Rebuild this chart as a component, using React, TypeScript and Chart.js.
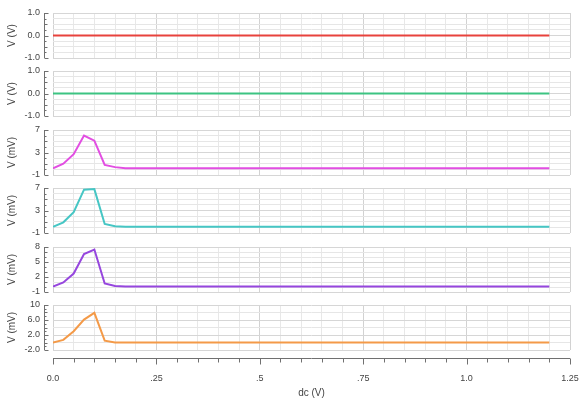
import React, { useEffect, useRef } from "react";
import { Chart, registerables } from "chart.js";
Chart.register(...registerables);

// ---- data ----
const X_VALUES = [0, 0.025, 0.05, 0.075, 0.1, 0.125, 0.15, 0.175, 1.2];
const SERIES_1 = [0, 0, 0, 0, 0, 0, 0, 0, 0];
const SERIES_2 = [0, 0, 0, 0, 0, 0, 0, 0, 0];
const SERIES_3 = [0.2, 1.0, 2.7, 6.0, 5.1, 0.8, 0.4, 0.2, 0.2];
const SERIES_4 = [0.1, 0.9, 2.7, 6.7, 6.8, 0.6, 0.2, 0.1, 0.1];
const SERIES_5 = [0.1, 0.9, 2.7, 6.6, 7.5, 0.7, 0.2, 0.1, 0.1];
const SERIES_6 = [0.0, 0.7, 3.0, 6.1, 7.9, 0.5, 0.0, 0.0, 0.0];

// ---- tick labels ----
const X_TICK_VALUES = [0, 0.25, 0.5, 0.75, 1.0, 1.25];
const X_TICK_LABELS = ["0.0", ".25", ".5", ".75", "1.0", "1.25"];
const X_TITLE = "dc (V)";

const Y1_TICK_VALUES = [-1, 0, 1];
const Y1_TICK_LABELS = ["-1.0", "0.0", "1.0"];
const Y2_TICK_VALUES = [-1, 0, 1];
const Y2_TICK_LABELS = ["-1.0", "0.0", "1.0"];
const Y3_TICK_VALUES = [-1, 3, 7];
const Y3_TICK_LABELS = ["-1", "3", "7"];
const Y4_TICK_VALUES = [-1, 3, 7];
const Y4_TICK_LABELS = ["-1", "3", "7"];
const Y5_TICK_VALUES = [-1, 2, 5, 8];
const Y5_TICK_LABELS = ["-1", "2", "5", "8"];
const Y6_TICK_VALUES = [-2, 2, 6, 10];
const Y6_TICK_LABELS = ["-2.0", "2.0", "6.0", "10"];

const Y_TITLES = ["V (V)", "V (V)", "V (mV)", "V (mV)", "V (mV)", "V (mV)"];

type PanelCfg = {
  data: number[];
  color: string;
  min: number;
  max: number;
  step: number;
  gridStep: number;
  tickValues: number[];
  tickLabels: string[];
  title: string;
  top: number;
};

const PLOT_LEFT = 53;
const PLOT_RIGHT = 570;
const PANEL_H = 45;
const PAD = 8;
const FONT = "'Liberation Sans', 'DejaVu Sans', sans-serif";

const PANELS: PanelCfg[] = [
  { data: SERIES_1, color: "#e8423c", min: -1, max: 1, step: 0.25, gridStep: 0.25, tickValues: Y1_TICK_VALUES, tickLabels: Y1_TICK_LABELS, title: Y_TITLES[0], top: 13 },
  { data: SERIES_2, color: "#3cc482", min: -1, max: 1, step: 0.25, gridStep: 0.25, tickValues: Y2_TICK_VALUES, tickLabels: Y2_TICK_LABELS, title: Y_TITLES[1], top: 71 },
  { data: SERIES_3, color: "#e24ee2", min: -1, max: 7, step: 1, gridStep: 1, tickValues: Y3_TICK_VALUES, tickLabels: Y3_TICK_LABELS, title: Y_TITLES[2], top: 130 },
  { data: SERIES_4, color: "#46c6c4", min: -1, max: 7, step: 1, gridStep: 1, tickValues: Y4_TICK_VALUES, tickLabels: Y4_TICK_LABELS, title: Y_TITLES[3], top: 188 },
  { data: SERIES_5, color: "#9646de", min: -1, max: 8, step: 1, gridStep: 1, tickValues: Y5_TICK_VALUES, tickLabels: Y5_TICK_LABELS, title: Y_TITLES[4], top: 247 },
  { data: SERIES_6, color: "#f49a48", min: -2, max: 10, step: 1, gridStep: 2, tickValues: Y6_TICK_VALUES, tickLabels: Y6_TICK_LABELS, title: Y_TITLES[5], top: 305 },
];

const near = (a: number, b: number) => Math.abs(a - b) < 1e-6;
const isMult = (v: number, s: number) => Math.abs(v / s - Math.round(v / s)) < 1e-6;

function makeAxisPlugin(cfg: PanelCfg, showX: boolean) {
  return {
    id: "offsetAxes",
    afterDraw(chart: any) {
      const { ctx, chartArea } = chart;
      const ys = chart.scales.y;
      ctx.save();
      ctx.strokeStyle = "#707070";
      ctx.lineWidth = 1;
      const ax = Math.round(chartArea.left - 9) + 0.5;
      ctx.beginPath();
      ctx.moveTo(ax, chartArea.top);
      ctx.lineTo(ax, chartArea.bottom);
      ys.ticks.forEach((t: any, i: number) => {
        const py = Math.round(ys.getPixelForValue(t.value)) + 0.5;
        const major = cfg.tickValues.some((m) => near(m, t.value));
        const len = major ? 4 : i % 2 === 0 ? 3 : 2;
        ctx.moveTo(ax, py);
        ctx.lineTo(ax + len, py);
      });
      ctx.stroke();
      if (showX) {
        const xs = chart.scales.x;
        const ay = Math.round(chartArea.bottom + 8) + 0.5;
        ctx.beginPath();
        ctx.moveTo(chartArea.left, ay);
        ctx.lineTo(chartArea.right, ay);
        xs.ticks.forEach((t: any) => {
          const px = Math.round(xs.getPixelForValue(t.value)) + 0.5;
          const major = X_TICK_VALUES.some((m) => near(m, t.value));
          ctx.moveTo(px, ay);
          ctx.lineTo(px, ay + (major ? 6 : 4));
        });
        ctx.stroke();
      }
      ctx.restore();
    },
  };
}

function Panel({ cfg, showX }: { cfg: PanelCfg; showX: boolean }) {
  const ref = useRef<HTMLCanvasElement | null>(null);
  const canvasTop = cfg.top - PAD;
  const canvasH = showX ? 400 - canvasTop : PANEL_H + PAD * 2;
  const xAxisH = showX ? 400 - (cfg.top + PANEL_H) : 0;

  useEffect(() => {
    if (!ref.current) return;
    const chart = new Chart(ref.current, {
      type: "line",
      data: {
        datasets: [
          {
            data: X_VALUES.map((x, i) => ({ x, y: cfg.data[i] })),
            borderColor: cfg.color,
            borderWidth: 2,
            pointRadius: 0,
            pointHoverRadius: 0,
            tension: 0,
            fill: false,
          },
        ],
      },
      options: {
        animation: false,
        responsive: false,
        maintainAspectRatio: false,
        layout: { autoPadding: false, padding: { left: 0, right: 579 - PLOT_RIGHT, top: PAD, bottom: showX ? 0 : PAD } },
        plugins: { legend: { display: false }, tooltip: { enabled: false } },
        scales: {
          x: {
            type: "linear",
            min: 0,
            max: 1.25,
            display: true,
            border: { display: false },
            grid: {
              drawTicks: showX,
              tickLength: 23,
              tickColor: "rgba(0,0,0,0)",
              color: (c: any) => (isMult(c.tick.value, 0.25) ? "#d2d2d2" : "#e8e8e8"),
              lineWidth: 1,
            },
            ticks: {
              display: showX,
              stepSize: 0.05,
              autoSkip: false,
              maxRotation: 0,
              padding: 0,
              color: "#444",
              font: { family: FONT, size: 9 },
              callback: (v: any) => {
                const idx = X_TICK_VALUES.findIndex((m) => near(m, Number(v)));
                return idx >= 0 ? X_TICK_LABELS[idx] : "";
              },
            },
            title: {
              display: showX,
              text: X_TITLE,
              color: "#444",
              font: { family: FONT, size: 10 },
              padding: { top: 0, bottom: 1 },
            },
            afterFit: (s: any) => {
              s.height = xAxisH;
            },
          },
          y: {
            type: "linear",
            min: cfg.min,
            max: cfg.max,
            border: { display: false },
            grid: {
              drawTicks: true,
              tickLength: 13,
              tickColor: "rgba(0,0,0,0)",
              color: (c: any) => {
                const v = c.tick.value;
                if (!isMult(v - cfg.min, cfg.gridStep)) return "rgba(0,0,0,0)";
                return cfg.tickValues.some((m) => near(m, v)) ? "#d6d6d6" : "#e6e6e6";
              },
              lineWidth: 1,
            },
            ticks: {
              stepSize: cfg.step,
              autoSkip: false,
              padding: 0,
              color: "#444",
              font: { family: FONT, size: 9 },
              callback: (v: any) => {
                const idx = cfg.tickValues.findIndex((m) => near(m, Number(v)));
                return idx >= 0 ? cfg.tickLabels[idx] : "";
              },
            },
            title: {
              display: true,
              text: cfg.title,
              color: "#444",
              font: { family: FONT, size: 10 },
              padding: { top: 6, bottom: 0 },
            },
            afterFit: (s: any) => {
              s.width = PLOT_LEFT;
            },
          },
        },
      },
      plugins: [makeAxisPlugin(cfg, showX)],
    } as any);
    return () => chart.destroy();
  }, []);

  return (
    <canvas
      ref={ref}
      width={579}
      height={canvasH}
      style={{ position: "absolute", left: 0, top: canvasTop, width: 579, height: canvasH }}
    />
  );
}

export default function App() {
  return (
    <div style={{ position: "absolute", left: 0, top: 0, width: 579, height: 400, background: "#fff" }}>
      {PANELS.map((p, i) => (
        <Panel key={i} cfg={p} showX={i === PANELS.length - 1} />
      ))}
    </div>
  );
}
